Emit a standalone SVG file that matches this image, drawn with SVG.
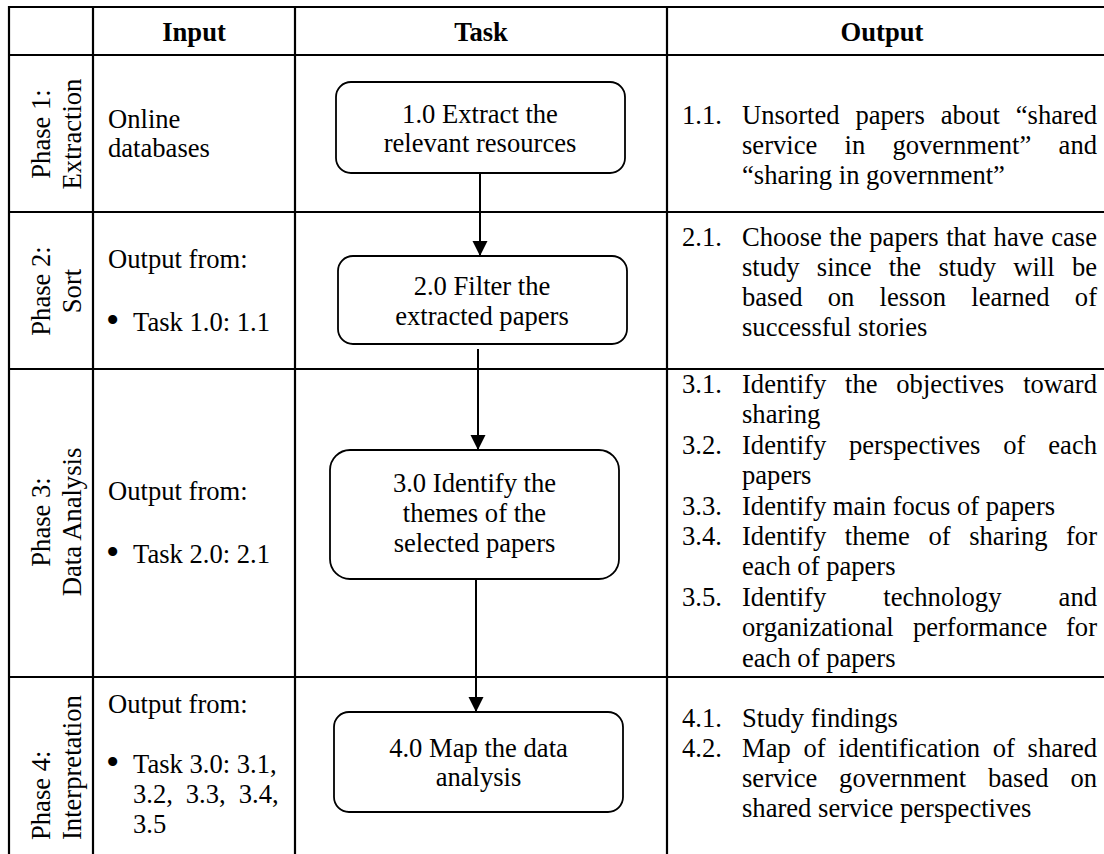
<svg xmlns="http://www.w3.org/2000/svg" width="1104" height="854" viewBox="0 0 1104 854">
<style>
text{font-family:"Liberation Serif","Times New Roman",serif;font-size:26.6px;fill:#000}
.b{font-weight:bold}
.m{text-anchor:middle}
.e{text-anchor:end}
.bl{font-size:38px}
.grid{stroke:#000;stroke-width:2.2;fill:none}
.box{fill:#fff;stroke:#000;stroke-width:1.8}
.conn{stroke:#000;stroke-width:2;fill:none}
</style>
<defs>
<marker id="ah" markerUnits="userSpaceOnUse" markerWidth="16" markerHeight="16" refX="15" refY="7.5" orient="auto">
<path d="M0,0 L15,7.5 L0,15 z" fill="#000"/>
</marker>
</defs>
<rect width="1104" height="854" fill="#fff"/>
<g id="table" class="grid">
<line x1="8" y1="7" x2="1104" y2="7"/>
<line x1="8" y1="55" x2="1104" y2="55"/>
<line x1="8" y1="212" x2="1104" y2="212"/>
<line x1="8" y1="369" x2="1104" y2="369"/>
<line x1="8" y1="677" x2="1104" y2="677"/>
<line x1="9" y1="6" x2="9" y2="854"/>
<line x1="93" y1="6" x2="93" y2="854"/>
<line x1="295" y1="6" x2="295" y2="854"/>
<line x1="667" y1="6" x2="667" y2="854"/>
</g>
<g id="header">
<text class="b m" x="194" y="41">Input</text>
<text class="b m" x="481" y="41">Task</text>
<text class="b m" x="882" y="41">Output</text>
</g>
<g id="phases">
<text class="m" transform="translate(49.5,134) rotate(-90)">Phase 1:</text>
<text class="m" transform="translate(80.5,134) rotate(-90)">Extraction</text>
<text class="m" transform="translate(49.5,291) rotate(-90)">Phase 2:</text>
<text class="m" transform="translate(80.5,291) rotate(-90)">Sort</text>
<text class="m" transform="translate(49.5,522) rotate(-90)">Phase 3:</text>
<text class="m" transform="translate(80.5,522) rotate(-90)">Data Analysis</text>
<text transform="translate(49.5,840) rotate(-90)">Phase 4:</text>
<text transform="translate(80.5,840) rotate(-90)">Interpretation</text>
</g>
<g id="inputs">
<text x="108" y="128">Online</text>
<text x="108" y="157">databases</text>
<text x="108" y="268">Output from:</text>
<text class="bl" x="106" y="333">•</text><text x="133" y="331">Task 1.0: 1.1</text>
<text x="108" y="500">Output from:</text>
<text class="bl" x="106" y="565">•</text><text x="133" y="563">Task 2.0: 2.1</text>
<text x="108" y="713">Output from:</text>
<text class="bl" x="106" y="775">•</text><text x="133" y="773">Task 3.0: 3.1,</text>
<text y="803"><tspan x="133">3.2,</tspan><tspan x="185.8">3.3,</tspan><tspan x="278.6" class="e">3.4,</tspan></text>
<text x="133" y="833">3.5</text>
</g>
<g id="connectors">
<line class="conn" x1="480" y1="173" x2="480" y2="256" marker-end="url(#ah)"/>
<line class="conn" x1="478" y1="349" x2="478" y2="450" marker-end="url(#ah)"/>
<line class="conn" x1="476" y1="579" x2="476" y2="712" marker-end="url(#ah)"/>
</g>
<g id="task1">
<rect class="box" x="336" y="82" width="289" height="91" rx="15"/>
<text class="m" x="480" y="123">1.0 Extract the</text>
<text class="m" x="480" y="152">relevant resources</text>
</g>
<g id="task2">
<rect class="box" x="338" y="256" width="289" height="88" rx="15"/>
<text class="m" x="482" y="295">2.0 Filter the</text>
<text class="m" x="482" y="325">extracted papers</text>
</g>
<g id="task3">
<rect class="box" x="330" y="450" width="289" height="129" rx="20"/>
<text class="m" x="474.5" y="492">3.0 Identify the</text>
<text class="m" x="474.5" y="522">themes of the</text>
<text class="m" x="474.5" y="552">selected papers</text>
</g>
<g id="task4">
<rect class="box" x="334" y="712" width="289" height="100" rx="15"/>
<text class="m" x="478.5" y="757">4.0 Map the data</text>
<text class="m" x="478.5" y="786">analysis</text>
</g>
<g id="outputs">
<text x="682" y="124">1.1.</text>
<text y="124"><tspan x="742">Unsorted</tspan><tspan x="855.4">papers</tspan><tspan x="940.7">about</tspan><tspan x="1097" class="e">“shared</tspan></text>
<text y="154"><tspan x="742">service</tspan><tspan x="844.5">in</tspan><tspan x="892.4">government”</tspan><tspan x="1097" class="e">and</tspan></text>
<text x="742" y="184">“sharing in government”</text>

<text x="682" y="246">2.1.</text>
<text y="246"><tspan x="742">Choose</tspan><tspan x="829.3">the</tspan><tspan x="869.3">papers</tspan><tspan x="946.2">that</tspan><tspan x="993.6">have</tspan><tspan x="1097" class="e">case</tspan></text>
<text y="276"><tspan x="742">study</tspan><tspan x="816.8">since</tspan><tspan x="888.7">the</tspan><tspan x="938.4">study</tspan><tspan x="1013.2">will</tspan><tspan x="1097" class="e">be</tspan></text>
<text y="306"><tspan x="742">based</tspan><tspan x="827.8">on</tspan><tspan x="879.6">lesson</tspan><tspan x="971.3">learned</tspan><tspan x="1097" class="e">of</tspan></text>
<text x="742" y="336">successful stories</text>

<text x="682" y="393">3.1.</text>
<text y="393"><tspan x="742">Identify</tspan><tspan x="845">the</tspan><tspan x="896.3">objectives</tspan><tspan x="1097" class="e">toward</tspan></text>
<text x="742" y="423.4">sharing</text>
<text x="682" y="453.8">3.2.</text>
<text y="453.8"><tspan x="742">Identify</tspan><tspan x="849">perspectives</tspan><tspan x="1003.3">of</tspan><tspan x="1097" class="e">each</tspan></text>
<text x="742" y="484.2">papers</text>
<text x="682" y="514.6">3.3.</text>
<text x="742" y="514.6">Identify main focus of papers</text>
<text x="682" y="545">3.4.</text>
<text y="545"><tspan x="742">Identify</tspan><tspan x="844.8">theme</tspan><tspan x="928.4">of</tspan><tspan x="969.2">sharing</tspan><tspan x="1097" class="e">for</tspan></text>
<text x="742" y="575.4">each of papers</text>
<text x="682" y="605.8">3.5.</text>
<text y="605.8"><tspan x="742">Identify</tspan><tspan x="883.3">technology</tspan><tspan x="1097" class="e">and</tspan></text>
<text y="636.2"><tspan x="742">organizational</tspan><tspan x="912.9">performance</tspan><tspan x="1097" class="e">for</tspan></text>
<text x="742" y="666.6">each of papers</text>

<text x="682" y="727">4.1.</text>
<text x="742" y="727">Study findings</text>
<text x="682" y="757">4.2.</text>
<text y="757"><tspan x="742">Map</tspan><tspan x="803.4">of</tspan><tspan x="838.2">identification</tspan><tspan x="992.7">of</tspan><tspan x="1097" class="e">shared</tspan></text>
<text y="787"><tspan x="742">service</tspan><tspan x="839.1">government</tspan><tspan x="988">based</tspan><tspan x="1097" class="e">on</tspan></text>
<text x="742" y="817">shared service perspectives</text>
</g>
</svg>
